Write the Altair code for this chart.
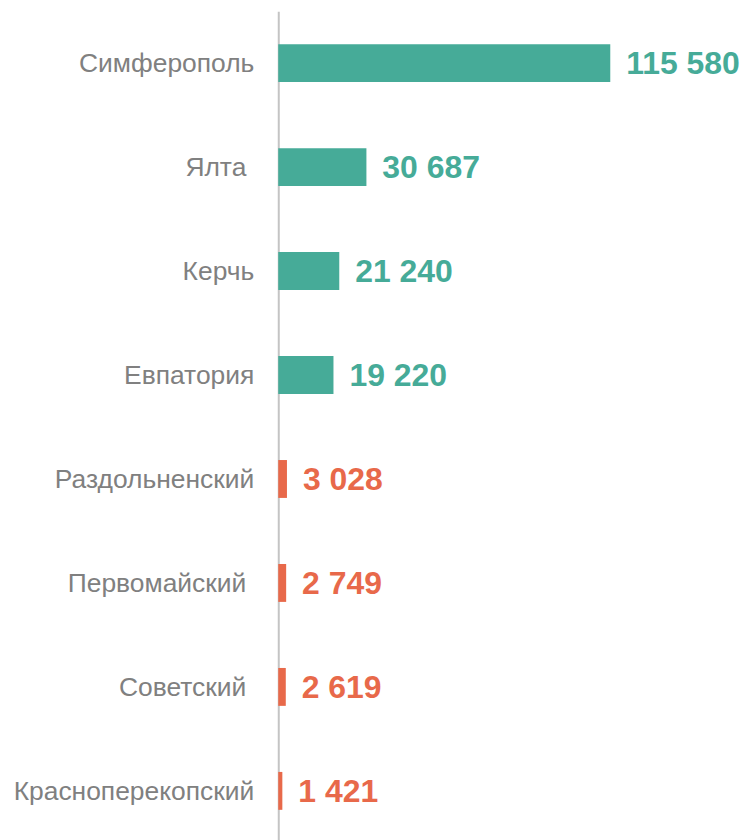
import altair as alt
import pandas as pd

cities = ["Симферополь", "Ялта ", "Керчь", "Евпатория", "Раздольненский",
          "Первомайский ", "Советский ", "Красноперекопский"]
values = [115580, 30687, 21240, 19220, 3028, 2749, 2619, 1421]
groups = ["city", "city", "city", "city", "district", "district", "district", "district"]

df = pd.DataFrame({"raw": cities, "value": values, "group": groups})
df["trail"] = df["raw"].str.endswith(" ")
df["name"] = df["raw"].str.strip()
order = list(df["name"])
df["label"] = df["value"].map(lambda v: f"{v:,}".replace(",", " "))

FONT = "Liberation Sans, Arial, sans-serif"
color = alt.Color("group:N", scale=alt.Scale(domain=["city", "district"],
                                              range=["#46AB98", "#E8694A"]), legend=None)

y = alt.Y("name:N", sort=order, title=None,
          scale=alt.Scale(paddingInner=0, paddingOuter=0),
          axis=alt.Axis(ticks=False, labels=False, domainColor="#c4c4c4", domainWidth=2,
                        minExtent=0, maxExtent=0))
x = alt.X("value:Q", scale=alt.Scale(domain=[0, 159700], nice=False), axis=None)
ys = alt.Y("name:N", sort=order)

bars = alt.Chart(df).mark_bar(size=38).encode(y=y, x=x, color=color)
text = alt.Chart(df).mark_text(align="left", baseline="middle", dx=16, dy=1, fontSize=32,
                               fontWeight="bold", font=FONT).encode(
    y=ys, x="value:Q", text="label:N", color=color)

base_lab = alt.Chart(df).encode(y=ys, x=alt.value(0), text="name:N")
lab_plain = base_lab.transform_filter("!datum.trail").mark_text(
    align="right", baseline="middle", dx=-24, dy=1, fontSize=26.5, font=FONT, color="#808080")
lab_trail = base_lab.transform_filter("datum.trail").mark_text(
    align="right", baseline="middle", dx=-32, dy=1, fontSize=26.5, font=FONT, color="#808080")

chart = (bars + text + lab_plain + lab_trail).properties(
    width=460, height=834,
    padding={"left": 5, "top": 2, "right": 0, "bottom": 0}
).configure_view(stroke=None).configure_axis(grid=False)

chart.save("out.html", embed_options={"renderer": "svg", "actions": False})
